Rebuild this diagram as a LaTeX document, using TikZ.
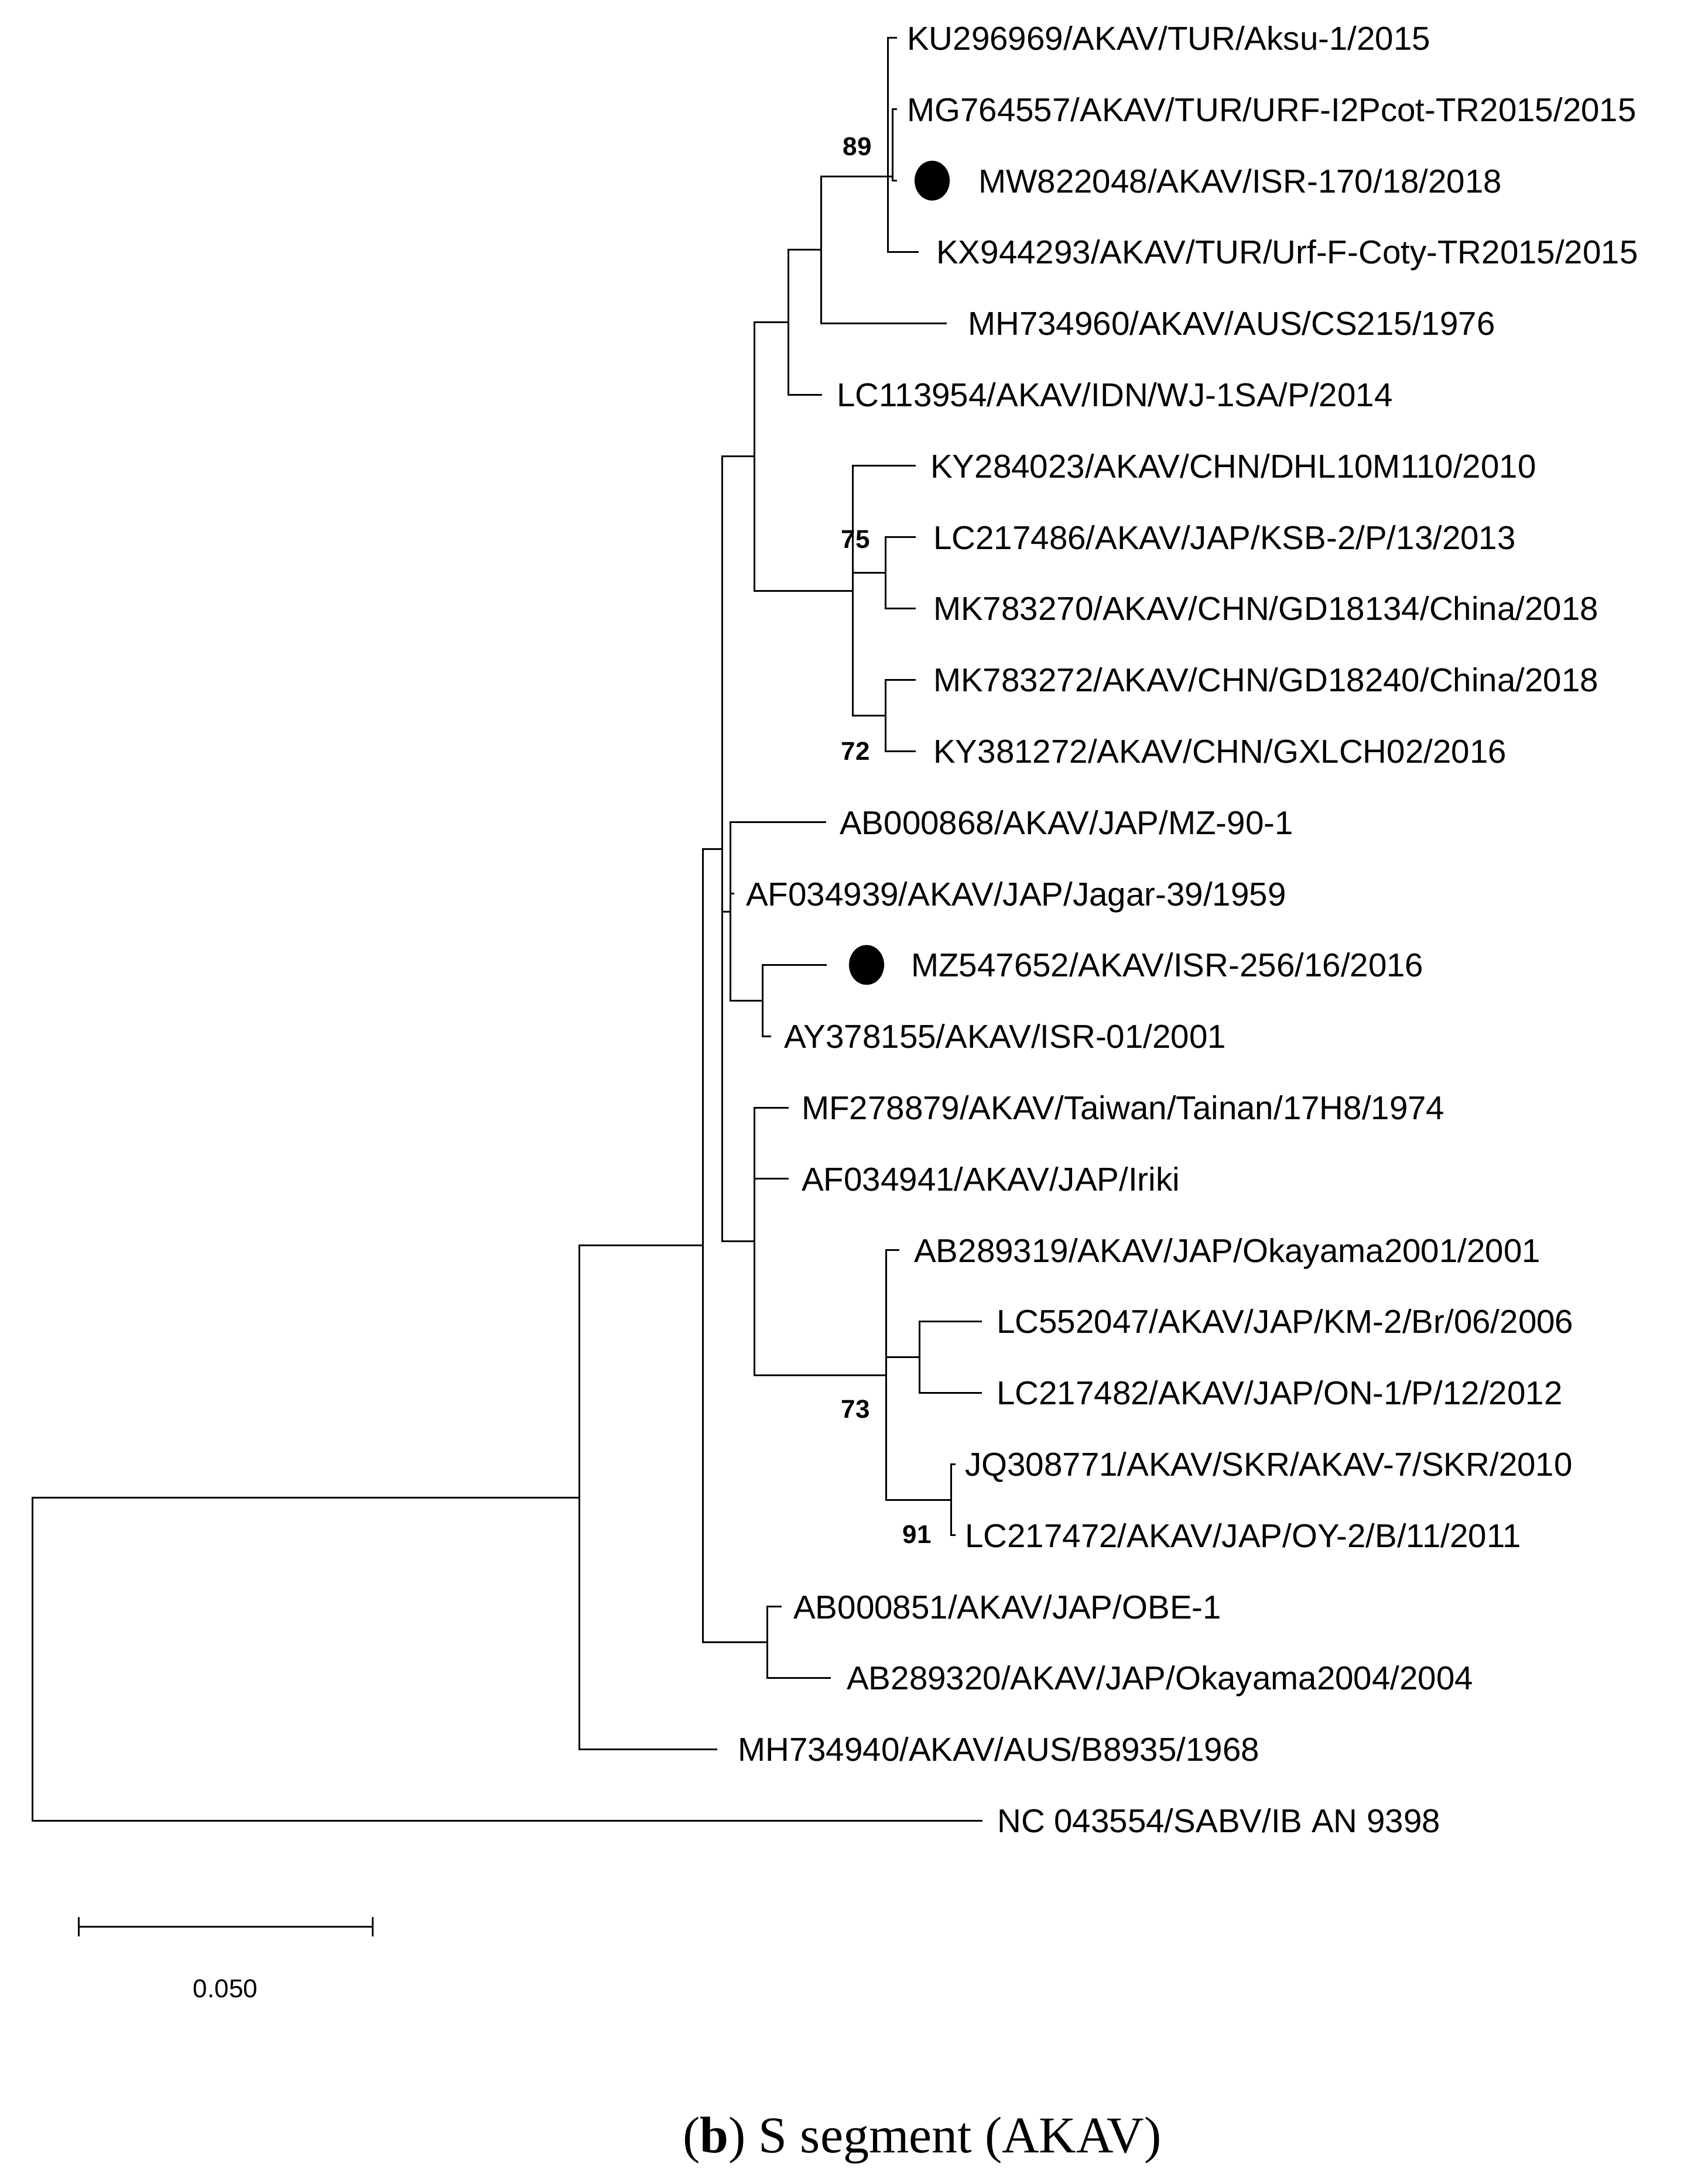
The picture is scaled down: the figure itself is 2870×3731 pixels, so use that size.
\documentclass[tikz,border=0pt]{standalone}
\usepackage{fontspec}
\setmainfont{Liberation Sans}
\newfontfamily\capfont{Liberation Serif}
\usetikzlibrary{shapes.geometric}
\begin{document}
\begin{tikzpicture}[x=1pt,y=-1pt,
  br/.style={line width=3pt,line cap=rect},
  leaf/.style={anchor=west,inner sep=0pt,font=\fontsize{56.5}{62}\selectfont,text height=41pt,text depth=0pt},
  boot/.style={inner sep=0pt,font=\fontsize{44}{50}\selectfont\bfseries},
  dot/.style={ellipse,fill=black,minimum width=60pt,minimum height=68pt,inner sep=0pt}]
\useasboundingbox (0,0) rectangle (2870,3731);
% internal nodes
\coordinate (sub) at (1524,247.7);
\coordinate (n89) at (1516,301);
\coordinate (P1) at (1402,426.6);
\coordinate (P2) at (1346,550);
\coordinate (C1) at (1512,978.5);
\coordinate (C2) at (1512,1222);
\coordinate (C75) at (1456,1009);
\coordinate (P3) at (1288,779.5);
\coordinate (S) at (1302,1709);
\coordinate (R) at (1247,1557);
\coordinate (V) at (1570,2318);
\coordinate (W) at (1624,2562);
\coordinate (U) at (1513,2349);
\coordinate (T) at (1288,2120.4);
\coordinate (Q) at (1233,1450);
\coordinate (X) at (1310,2805.5);
\coordinate (B) at (1200,2127.8);
\coordinate (A) at (989,2558);
\coordinate (root) at (55,2834);
% leaf ends
\coordinate (e0) at (1530,65);
\coordinate (e1) at (1530,186.8);
\coordinate (e2) at (1530,308.6);
\coordinate (e3) at (1567,430.4);
\coordinate (e4) at (1615,552.2);
\coordinate (e5) at (1402,674);
\coordinate (e6) at (1562,795.8);
\coordinate (e7) at (1562,917.6);
\coordinate (e8) at (1562,1039.4);
\coordinate (e9) at (1562,1161.2);
\coordinate (e10) at (1562,1283);
\coordinate (e11) at (1409,1404.8);
\coordinate (e12) at (1252,1526.6);
\coordinate (e13) at (1410,1648.4);
\coordinate (e14) at (1315,1770.2);
\coordinate (e15) at (1345,1892);
\coordinate (e16) at (1345,2013.8);
\coordinate (e17) at (1534,2135.6);
\coordinate (e18) at (1675,2257.4);
\coordinate (e19) at (1675,2379.2);
\coordinate (e20) at (1630,2501);
\coordinate (e21) at (1630,2622.8);
\coordinate (e22) at (1333,2744.6);
\coordinate (e23) at (1417,2866.4);
\coordinate (e24) at (1223,2988.2);
\coordinate (e25) at (1676,3110);
% labels
\node[leaf] (l0) at (1549,65) {KU296969/AKAV/TUR/Aksu-1/2015};
\node[leaf] (l1) at (1549,186.8) {MG764557/AKAV/TUR/URF-I2Pcot-TR2015/2015};
\node[dot] (d2) at (1592,308.6) {};
\node[leaf] (l2) at (1671,308.6) {MW822048/AKAV/ISR-170/18/2018};
\node[leaf] (l3) at (1599,430.4) {KX944293/AKAV/TUR/Urf-F-Coty-TR2015/2015};
\node[leaf] (l4) at (1653,552.2) {MH734960/AKAV/AUS/CS215/1976};
\node[leaf] (l5) at (1429,674) {LC113954/AKAV/IDN/WJ-1SA/P/2014};
\node[leaf] (l6) at (1589,795.8) {KY284023/AKAV/CHN/DHL10M110/2010};
\node[leaf] (l7) at (1594,917.6) {LC217486/AKAV/JAP/KSB-2/P/13/2013};
\node[leaf] (l8) at (1594,1039.4) {MK783270/AKAV/CHN/GD18134/China/2018};
\node[leaf] (l9) at (1594,1161.2) {MK783272/AKAV/CHN/GD18240/China/2018};
\node[leaf] (l10) at (1594,1283) {KY381272/AKAV/CHN/GXLCH02/2016};
\node[leaf] (l11) at (1434,1404.8) {AB000868/AKAV/JAP/MZ-90-1};
\node[leaf] (l12) at (1274,1526.6) {AF034939/AKAV/JAP/Jagar-39/1959};
\node[dot] (d13) at (1480,1648.4) {};
\node[leaf] (l13) at (1556,1648.4) {MZ547652/AKAV/ISR-256/16/2016};
\node[leaf] (l14) at (1339,1770.2) {AY378155/AKAV/ISR-01/2001};
\node[leaf] (l15) at (1369,1892) {MF278879/AKAV/Taiwan/Tainan/17H8/1974};
\node[leaf] (l16) at (1369,2013.8) {AF034941/AKAV/JAP/Iriki};
\node[leaf] (l17) at (1561,2135.6) {AB289319/AKAV/JAP/Okayama2001/2001};
\node[leaf] (l18) at (1702,2257.4) {LC552047/AKAV/JAP/KM-2/Br/06/2006};
\node[leaf] (l19) at (1702,2379.2) {LC217482/AKAV/JAP/ON-1/P/12/2012};
\node[leaf] (l20) at (1648,2501) {JQ308771/AKAV/SKR/AKAV-7/SKR/2010};
\node[leaf] (l21) at (1648,2622.8) {LC217472/AKAV/JAP/OY-2/B/11/2011};
\node[leaf] (l22) at (1355,2744.6) {AB000851/AKAV/JAP/OBE-1};
\node[leaf] (l23) at (1446,2866.4) {AB289320/AKAV/JAP/Okayama2004/2004};
\node[leaf] (l24) at (1260,2988.2) {MH734940/AKAV/AUS/B8935/1968};
\node[leaf] (l25) at (1703,3110) {NC 043554/SABV/IB AN 9398};
% bootstrap
\node[boot] (b89) at (1464,250) {89};
\node[boot] (b75) at (1461,922) {75};
\node[boot] (b72) at (1461,1283) {72};
\node[boot] (b73) at (1461,2407) {73};
\node[boot] (b91) at (1566,2621) {91};
% branches
\draw[br] (n89) |- (e0); \draw[br] (n89) |- (e3);
\draw[br] (n89) -- (n89 -| sub);
\draw[br] (sub) |- (e1); \draw[br] (sub) |- (e2);
\draw[br] (P1) |- (n89); \draw[br] (P1) |- (e4);
\draw[br] (P2) |- (P1); \draw[br] (P2) |- (e5);
\draw[br] (C1) |- (e7); \draw[br] (C1) |- (e8);
\draw[br] (C2) |- (e9); \draw[br] (C2) |- (e10);
\draw[br] (C75) |- (e6); \draw[br] (C75) |- (C1); \draw[br] (C75) |- (C2);
\draw[br] (P3) |- (P2); \draw[br] (P3) |- (C75);
\draw[br] (S) |- (e13); \draw[br] (S) |- (e14);
\draw[br] (R) |- (e11); \draw[br] (R) |- (e12); \draw[br] (R) |- (S);
\draw[br] (V) |- (e18); \draw[br] (V) |- (e19);
\draw[br] (W) |- (e20); \draw[br] (W) |- (e21);
\draw[br] (U) |- (e17); \draw[br] (U) |- (V); \draw[br] (U) |- (W);
\draw[br] (T) |- (e15); \draw[br] (T) |- (e16); \draw[br] (T) |- (U);
\draw[br] (Q) |- (P3); \draw[br] (Q) |- (R); \draw[br] (Q) |- (T);
\draw[br] (X) |- (e22); \draw[br] (X) |- (e23);
\draw[br] (B) |- (Q); \draw[br] (B) |- (X);
\draw[br] (A) |- (B); \draw[br] (A) |- (e24);
\draw[br] (root) |- (A); \draw[br] (root) |- (e25);
% scale bar
\coordinate (s1) at (134,3291);
\coordinate (s2) at (636,3291);
\draw[br] (s1) -- (s2);
\draw[br] ([yshift=-15pt]s1) -- ([yshift=15pt]s1);
\draw[br] ([yshift=-15pt]s2) -- ([yshift=15pt]s2);
\node[inner sep=0pt,font=\fontsize{44}{50}\selectfont] (sc) at (385,3397) {0.050};
% caption
\node[inner sep=0pt,font=\capfont\fontsize{88}{100}\selectfont] (cap) at (1575,3656) {(\textbf{b}) S segment (AKAV)};
\end{tikzpicture}
\end{document}
